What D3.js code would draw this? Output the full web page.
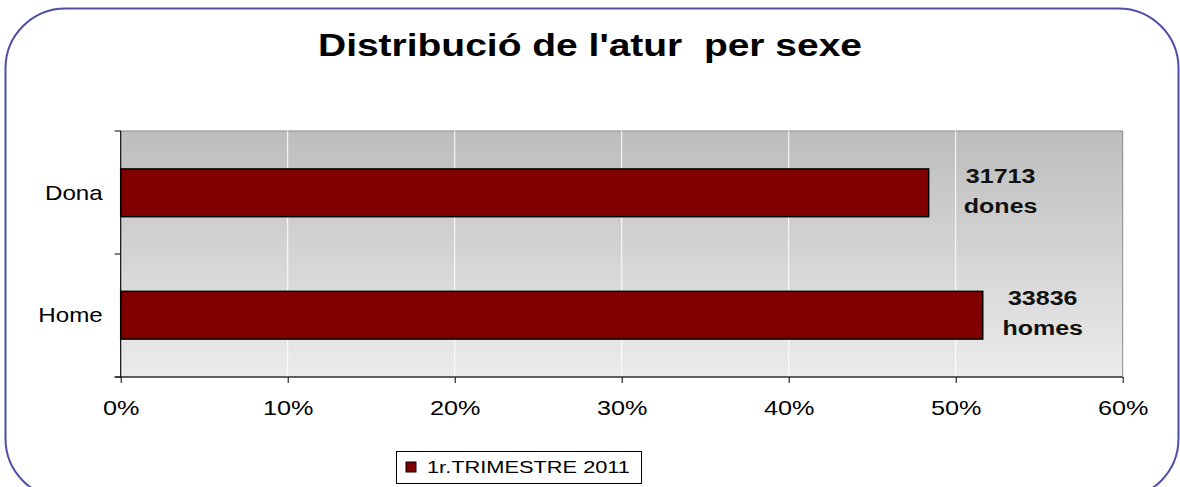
<!DOCTYPE html>
<meta charset="utf-8">
<title>Distribució de l'atur per sexe</title>
<style>
body { margin: 0; background: #fff; }
text { font-family: "Liberation Sans", Arial, sans-serif; white-space: pre; }
</style>
<body>
<script src="https://d3js.org/d3.v7.min.js"></script>
<script>

var width = 1180,
    height = 487;

// data
var categories = ["Dona", "Home"];
var counts = [31713, 33836];
var labels = ["dones", "homes"];
var seriesName = "1r.TRIMESTRE 2011";
var ticks = [0, 0.1, 0.2, 0.3, 0.4, 0.5, 0.6];

var total = d3.sum(counts);
var shares = counts.map(function(c){ return c / total; });

var svg = d3.select("body").append("svg")
    .attr("width", width)
    .attr("height", height);

// the original font is drawn a bit wider than Arial
function stretch(sel, k) {
    sel.each(function(){
        var l = this.getComputedTextLength();
        d3.select(this).attr("textLength", l * k).attr("lengthAdjust", "spacingAndGlyphs");
    });
}

var defs = svg.append("defs");
var grad = defs.append("linearGradient")
    .attr("id", "bg").attr("x1", 0).attr("y1", 0).attr("x2", 0).attr("y2", 1);
grad.append("stop").attr("offset", "0%").attr("stop-color", "#bdbdbd");
grad.append("stop").attr("offset", "100%").attr("stop-color", "#ebebeb");

// outer rounded frame
svg.append("rect")
    .attr("x", 5.5).attr("y", 8.5)
    .attr("width", 1173).attr("height", 490)
    .attr("rx", 60).attr("ry", 60)
    .attr("fill", "#fff")
    .attr("stroke", "#4f4fa6")
    .attr("stroke-width", 2);

svg.append("text")
    .attr("x", 590).attr("y", 56)
    .attr("text-anchor", "middle")
    .attr("font-size", 32)
    .attr("font-weight", "bold")
    .attr("textLength", 544)
    .attr("lengthAdjust", "spacingAndGlyphs")
    .text("Distribució de l'atur  per sexe");

var pLeft = 120.7, pRight = 1122.7, pTop = 131, pBottom = 377;

var x = d3.scaleLinear().domain([0, 0.6]).range([pLeft, pRight]);
var y = d3.scaleBand().domain(categories).range([pTop, pBottom]).paddingInner(0.61).paddingOuter(0.31);

// plot background
svg.append("rect")
    .attr("x", pLeft).attr("y", pTop)
    .attr("width", pRight - pLeft).attr("height", pBottom - pTop)
    .attr("fill", "url(#bg)")
    .attr("stroke", "#8a8a8a")
    .attr("stroke-width", 1);

// gridlines
svg.selectAll(".grid").data(ticks.slice(1, -1)).enter()
    .append("line").attr("class", "grid")
    .attr("x1", function(d){ return x(d); })
    .attr("x2", function(d){ return x(d); })
    .attr("y1", pTop).attr("y2", pBottom)
    .attr("stroke", "#fff").attr("stroke-width", 1);

// bars
svg.selectAll(".bar").data(categories).enter()
    .append("rect").attr("class", "bar")
    .attr("x", x(0))
    .attr("y", function(d){ return y(d); })
    .attr("width", function(d, i){ return x(shares[i]) - x(0); })
    .attr("height", y.bandwidth())
    .attr("fill", "#800000")
    .attr("stroke", "#000")
    .attr("stroke-width", 1.5);

// value labels (count on first line, word on second)
var offs = [72, 60];
var l1 = svg.selectAll(".lab1").data(categories).enter()
    .append("text").attr("class", "lab1")
    .attr("x", function(d, i){ return x(shares[i]) + offs[i]; })
    .attr("y", function(d){ return y(d) + 14; })
    .text(function(d, i){ return counts[i]; });
var l2 = svg.selectAll(".lab2").data(categories).enter()
    .append("text").attr("class", "lab2")
    .attr("x", function(d, i){ return x(shares[i]) + offs[i]; })
    .attr("y", function(d){ return y(d) + 44; })
    .text(function(d, i){ return labels[i]; });
[l1, l2].forEach(function(s){
    s.attr("text-anchor", "middle")
     .attr("font-size", 20)
     .attr("font-weight", "bold")
     .attr("fill", "#111");
    stretch(s, 1.25);
});

// x axis
var xAxis = svg.append("g")
    .attr("transform", "translate(0," + pBottom + ")")
    .call(d3.axisBottom(x).tickValues(ticks).tickFormat(d3.format(".0%")).tickSize(6).tickPadding(17));
xAxis.select(".domain").attr("stroke", "#000").attr("d", "M" + (pLeft - 6) + ",0H" + pRight);
xAxis.selectAll(".tick line").attr("stroke", "#000");
xAxis.selectAll("text").attr("font-size", 21).attr("fill", "#000")
    .style("font-family", "'Liberation Sans', Arial, sans-serif");
stretch(xAxis.selectAll("text"), 1.2);

// y axis
var yAxis = svg.append("g")
    .attr("transform", "translate(" + pLeft + ",0)")
    .call(d3.axisLeft(y).tickSize(0).tickPadding(18));
yAxis.select(".domain").attr("stroke", "#000").attr("d", "M0," + pTop + "V" + pBottom);
yAxis.selectAll("text").attr("font-size", 21).attr("fill", "#000")
    .style("font-family", "'Liberation Sans', Arial, sans-serif");
stretch(yAxis.selectAll("text"), 1.15);

// category separators
var seps = [pTop, (pTop + pBottom) / 2, pBottom];
svg.selectAll(".sep").data(seps).enter()
    .append("line").attr("class", "sep")
    .attr("x1", pLeft - 6).attr("x2", pLeft)
    .attr("y1", function(d){ return d; }).attr("y2", function(d){ return d; })
    .attr("stroke", "#000");

// legend
var lg = svg.append("g").attr("transform", "translate(396,451)");
lg.append("rect")
    .attr("x", 0.5).attr("y", 0.5).attr("width", 245).attr("height", 32)
    .attr("fill", "#fff").attr("stroke", "#000");
lg.append("rect")
    .attr("x", 10).attr("y", 11).attr("width", 10).attr("height", 10)
    .attr("fill", "#800000").attr("stroke", "#000");
lg.append("text")
    .attr("x", 31).attr("y", 22)
    .attr("font-size", 16)
    .attr("textLength", 203)
    .attr("lengthAdjust", "spacingAndGlyphs")
    .text(seriesName);

</script>
